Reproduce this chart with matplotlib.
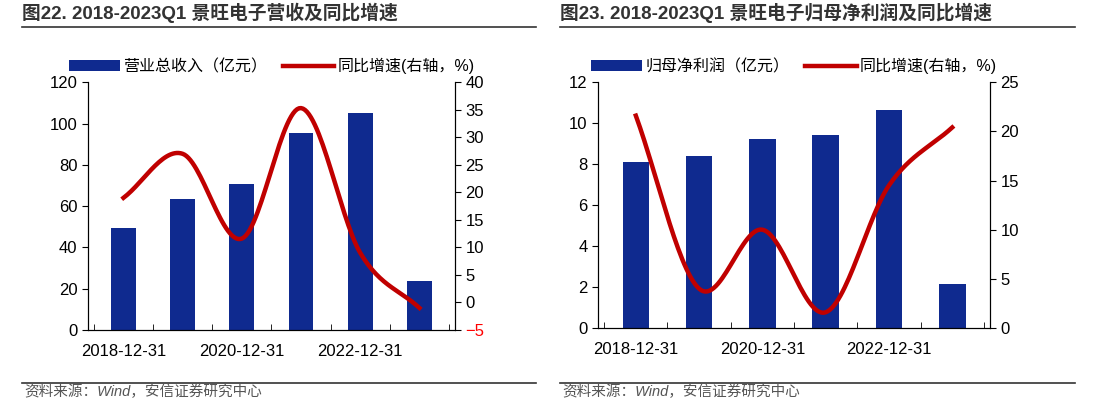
import matplotlib.pyplot as plt
import numpy as np

plt.rcParams["font.family"] = ["Liberation Sans", "Noto Sans CJK SC"]

dates = ["2018-12-31", "2019-12-31", "2020-12-31", "2021-12-31", "2022-12-31", "2023-03-31"]
revenue = [49.5, 63.5, 70.5, 95.5, 105.0, 23.5]
revenue_yoy = [19.0, 27.0, 11.6, 35.3, 9.0, -1.0]
profit = [8.1, 8.4, 9.25, 9.4, 10.65, 2.15]
profit_yoy = [21.6, 4.0, 10.0, 1.6, 14.5, 20.4]

BLUE = "#0f2a8f"
RED = "#c00000"


def smooth(y, n=30):
    # catmull-rom curve through the points, for drawing only
    y = np.asarray(y, float)
    p = np.concatenate([[2 * y[0] - y[1]], y, [2 * y[-1] - y[-2]]])
    xs, ys = [], []
    for i in range(len(y) - 1):
        t = np.linspace(0, 1, n, endpoint=False)
        p0, p1, p2, p3 = p[i], p[i + 1], p[i + 2], p[i + 3]
        v = 0.5 * (2 * p1 + (-p0 + p2) * t + (2 * p0 - 5 * p1 + 4 * p2 - p3) * t**2
                   + (-p0 + 3 * p1 - 3 * p2 + p3) * t**3)
        xs.append(i + t)
        ys.append(v)
    xs.append([len(y) - 1])
    ys.append([y[-1]])
    return np.concatenate(xs), np.concatenate(ys)


def panel(rect, bars, yoy, bar_label, ylim, yticks, y2lim, y2ticks, red_neg):
    ax = fig.add_axes(rect)
    x = np.arange(len(dates))
    ax.bar(x, bars, width=0.42, color=BLUE, label=bar_label, zorder=2)
    ax.set_xlim(-0.6, len(dates) - 0.4)
    ax.set_ylim(*ylim)
    ax.set_yticks(yticks)
    ax.set_xticks(x[::2])
    ax.set_xticklabels(dates[::2])
    ax.set_xticks(np.arange(len(dates) + 1) - 0.5, minor=True)
    ax.tick_params(axis="x", which="major", length=0, pad=10)
    ax.tick_params(axis="x", which="minor", direction="in", length=4)
    ax.tick_params(axis="y", direction="out", length=4, labelsize=12)
    ax.tick_params(axis="x", labelsize=12)
    ax.spines["top"].set_visible(False)
    ax2 = ax.twinx()
    sx, sy = smooth(yoy)
    ax2.plot(sx, sy, color=RED, lw=3.2, label="同比增速(右轴，%)", zorder=3)
    ax2.set_ylim(*y2lim)
    ax2.set_yticks(y2ticks)
    ax2.tick_params(axis="y", direction="out", length=4, labelsize=12)
    for t, v in zip(ax2.get_yticklabels(), y2ticks):
        if red_neg and v < 0:
            t.set_color("red")
    ax2.spines["top"].set_visible(False)
    h1, l1 = ax.get_legend_handles_labels()
    h2, l2 = ax2.get_legend_handles_labels()
    ax.legend(h1 + h2, l1 + l2, loc="lower center", bbox_to_anchor=(0.5, 1.0), ncol=2,
              frameon=False, fontsize=11.5, handlelength=3.2, columnspacing=1.0,
              handletextpad=0.2, borderaxespad=0.1)
    return ax


fig = plt.figure(figsize=(10.99, 4.01), dpi=100)
panel([0.080, 0.177, 0.334, 0.618], revenue, revenue_yoy, "营业总收入（亿元）",
      (0, 120), range(0, 121, 20), (-5, 40), range(-5, 41, 5), True)
panel([0.544, 0.182, 0.357, 0.613], profit, profit_yoy, "归母净利润（亿元）",
      (0, 12), range(0, 13, 2), (0, 25), range(0, 26, 5), False)

for x0, title in [(0.020, "图22. 2018-2023Q1 景旺电子营收及同比增速"),
                  (0.510, "图23. 2018-2023Q1 景旺电子归母净利润及同比增速")]:
    fig.text(x0, 0.968, title, fontsize=13.5, fontweight="bold", color="#333333", va="center",
             family=["Liberation Sans", "Noto Sans CJK SC"])
    fig.add_artist(plt.Line2D([x0, x0 + 0.468], [0.933, 0.933], color="#333333", lw=1.2))
    fig.add_artist(plt.Line2D([x0, x0 + 0.468], [0.045, 0.045], color="#333333", lw=1.2))
    fig.text(x0 + 0.002, 0.022, "资料来源：Wind，安信证券研究中心", fontsize=10.5,
             color="#555555", va="center", style="italic")

plt.savefig("out.png", dpi=100)
